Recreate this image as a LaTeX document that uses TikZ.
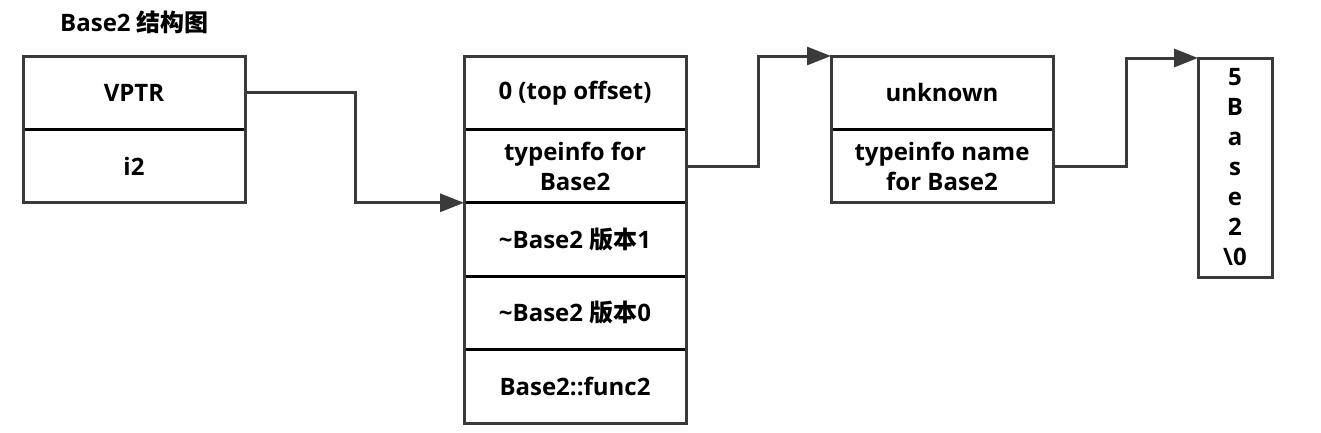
\documentclass[tikz,border=0pt]{standalone}
\usepackage{fontspec}
\setmainfont{Open Sans}
\newfontfamily\cjk{Noto Sans CJK SC}
\usepackage{tikz}
\usetikzlibrary{positioning, arrows.meta, fit}
\definecolor{framegray}{HTML}{3A3A3A}
\tikzset{
    cell/.style={rectangle, draw=black, line width=3pt, fill=white, align=center, minimum width=222pt, minimum height=73.4pt, inner sep=0pt, outer sep=0pt, font=\bfseries\fontsize{24}{30}\selectfont},
    strcell/.style={cell, minimum width=74pt, minimum height=219pt},
    frame/.style={rectangle, draw=framegray, line width=3pt, inner sep=0pt},
    arrow/.style={-{Triangle[length=24pt, width=18pt]}, draw=framegray, line width=3pt},
    heading/.style={anchor=west, inner sep=0pt, font=\bfseries\fontsize{24}{28}\selectfont}
}
\begin{document}
\begin{tikzpicture}[x=1pt, y=-1pt]
        \useasboundingbox (0,0) rectangle (1321,432);

        % Title
        \node[heading] (title) at (60,22) {Base2 {\cjk 结构图}};

        % Object layout
        \node[cell, anchor=north west] (vptr) at (23,56) {VPTR};
        \node[cell, below=0pt of vptr] (i2) {i2};
        \node[frame, fit=(vptr)(i2)] (obj) {};

        % Virtual table
        \node[cell, anchor=north west] (top) at (464,56) {0 (top offset)};
        \node[cell, below=0pt of top] (ti) {typeinfo for\\Base2};
        \node[cell, below=0pt of ti] (dtor1) {\textasciitilde Base2 {\cjk 版本}1};
        \node[cell, below=0pt of dtor1] (dtor0) {\textasciitilde Base2 {\cjk 版本}0};
        \node[cell, below=0pt of dtor0] (func) {Base2::func2};
        \node[frame, fit=(top)(func)] (vtbl) {};

        % Typeinfo object
        \node[cell, anchor=north west] (unk) at (831,56) {unknown};
        \node[cell, below=0pt of unk] (tn) {typeinfo name\\for Base2};
        \node[frame, fit=(unk)(tn)] (tinfo) {};

        % Name string
        \node[strcell, anchor=north west] (str) at (1198,58) {5\\B\\a\\s\\e\\2\\\textbackslash 0};
        \node[frame, fit=(str)] (strbox) {};

        % Connections
        \draw[arrow] (vptr.east) -- ++(110,0) |- (ti.south west);
        \draw[arrow] (ti.east) -- ++(72,0) |- (unk.north west);
        \draw[arrow] (tn.east) -- ++(73,0) |- (str.north west);

    \end{tikzpicture}
\end{document}
